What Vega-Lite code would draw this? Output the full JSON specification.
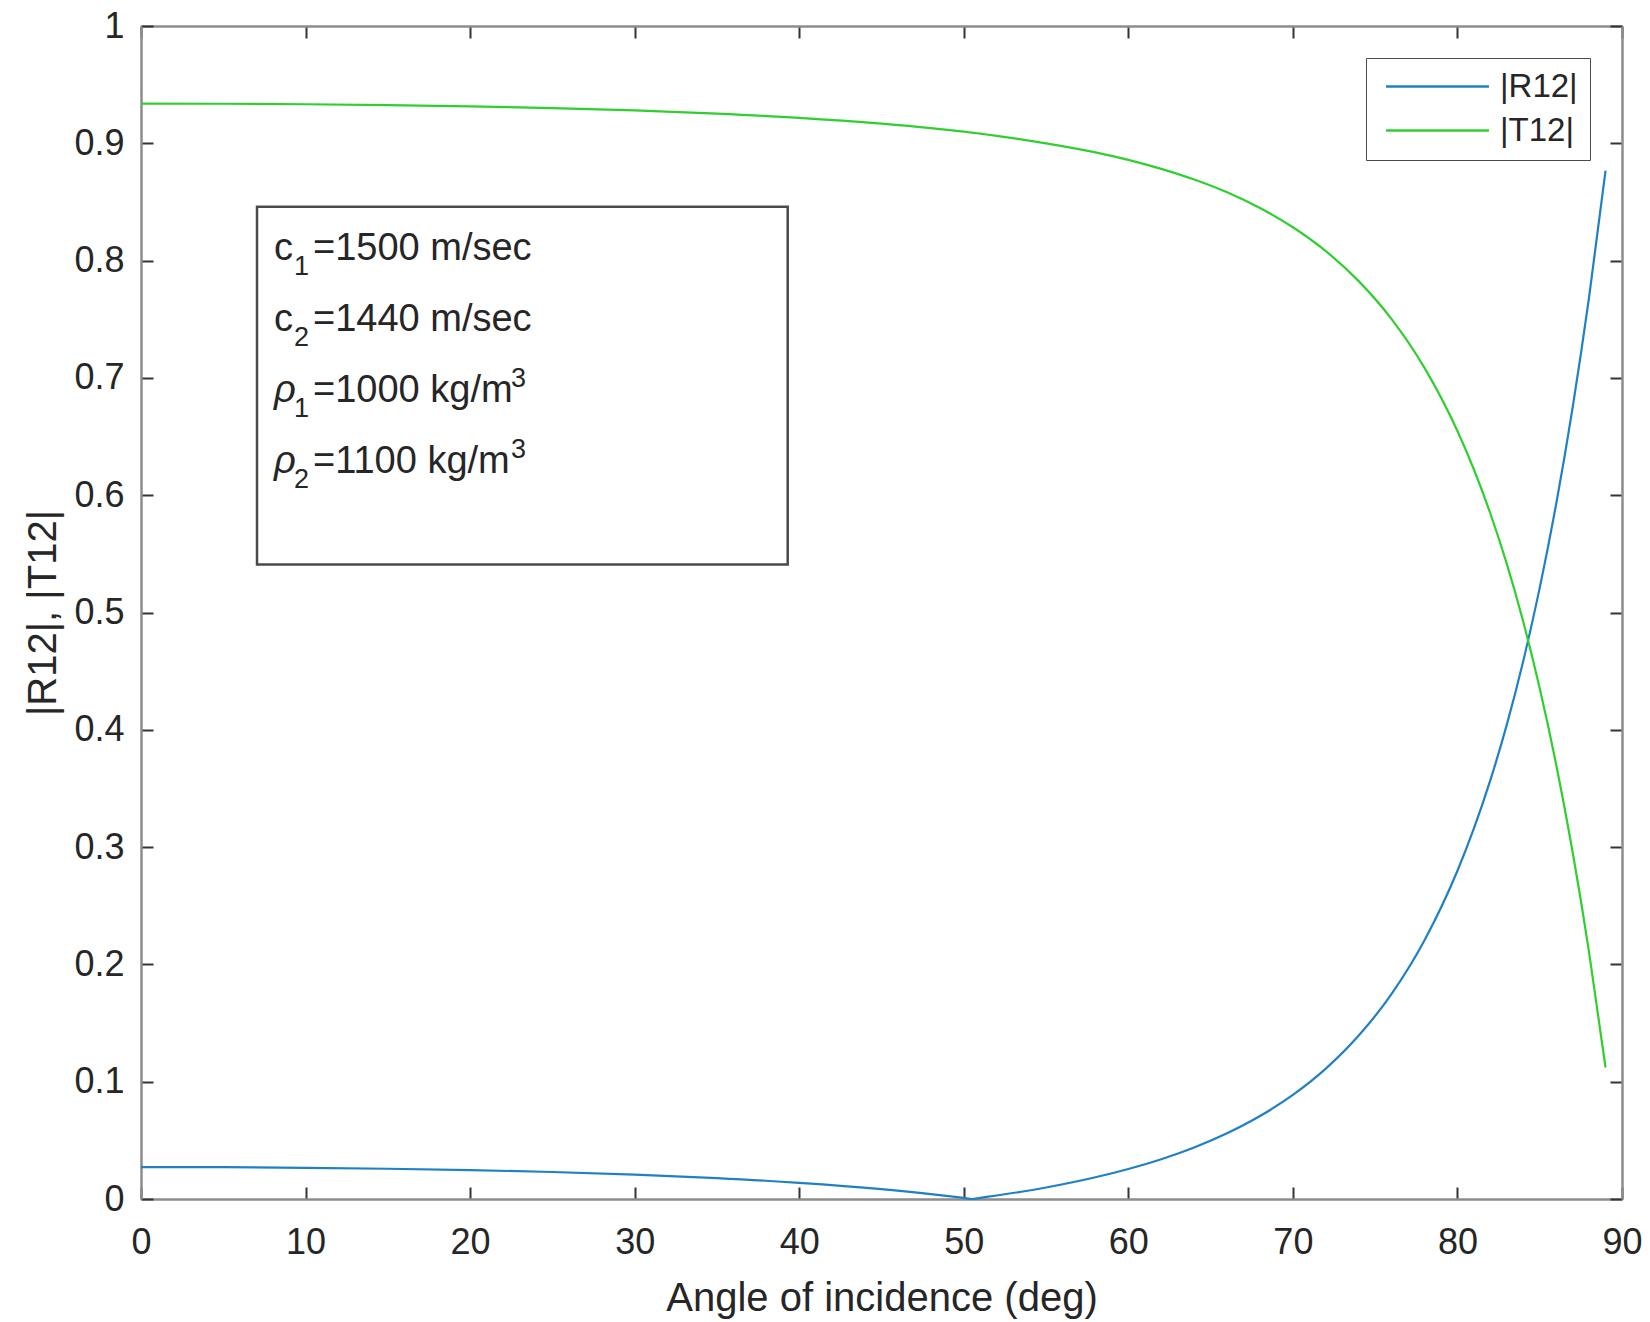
{
  "$schema": "https://vega.github.io/schema/vega-lite/v6.json",
  "width": 1481,
  "height": 1173,
  "autosize": {"type": "none"},
  "padding": {"left": 141, "top": 26, "right": 28, "bottom": 123},
  "background": "white",
  "config": {
    "view": {"stroke": null},
    "font": "Liberation Sans",
    "axis": {
      "domainColor": "#8c8c8c",
      "domainWidth": 2.5,
      "tickColor": "#333333",
      "tickWidth": 2,
      "tickSize": -12,
      "grid": false,
      "labelFont": "Liberation Sans",
      "labelFontSize": 36,
      "labelColor": "#262626",
      "titleFont": "Liberation Sans",
      "titleFontSize": 40,
      "titleFontWeight": "normal",
      "titleColor": "#262626"
    },
    "text": {"font": "Liberation Sans", "color": "#262626", "align": "left", "baseline": "alphabetic", "lineHeight": 71}
  },
  "layer": [
    {
      "data": {
        "values": [
          {"angle": 0, "series": "|R12|", "value": 0.0272},
          {"angle": 5, "series": "|R12|", "value": 0.0271},
          {"angle": 10, "series": "|R12|", "value": 0.0266},
          {"angle": 15, "series": "|R12|", "value": 0.0258},
          {"angle": 20, "series": "|R12|", "value": 0.0247},
          {"angle": 25, "series": "|R12|", "value": 0.0230},
          {"angle": 30, "series": "|R12|", "value": 0.0208},
          {"angle": 35, "series": "|R12|", "value": 0.0178},
          {"angle": 40, "series": "|R12|", "value": 0.0138},
          {"angle": 45, "series": "|R12|", "value": 0.0084},
          {"angle": 48, "series": "|R12|", "value": 0.0042},
          {"angle": 50, "series": "|R12|", "value": 0.0009},
          {"angle": 50.5, "series": "|R12|", "value": 0.0000},
          {"angle": 51, "series": "|R12|", "value": 0.0010},
          {"angle": 52, "series": "|R12|", "value": 0.0030},
          {"angle": 55, "series": "|R12|", "value": 0.0098},
          {"angle": 58, "series": "|R12|", "value": 0.0185},
          {"angle": 60, "series": "|R12|", "value": 0.0256},
          {"angle": 62, "series": "|R12|", "value": 0.0339},
          {"angle": 64, "series": "|R12|", "value": 0.0439},
          {"angle": 66, "series": "|R12|", "value": 0.0560},
          {"angle": 68, "series": "|R12|", "value": 0.0707},
          {"angle": 70, "series": "|R12|", "value": 0.0887},
          {"angle": 72, "series": "|R12|", "value": 0.1111},
          {"angle": 74, "series": "|R12|", "value": 0.1393},
          {"angle": 76, "series": "|R12|", "value": 0.1749},
          {"angle": 78, "series": "|R12|", "value": 0.2206},
          {"angle": 80, "series": "|R12|", "value": 0.2798},
          {"angle": 81, "series": "|R12|", "value": 0.3159},
          {"angle": 82, "series": "|R12|", "value": 0.3571},
          {"angle": 83, "series": "|R12|", "value": 0.4044},
          {"angle": 84, "series": "|R12|", "value": 0.4587},
          {"angle": 85, "series": "|R12|", "value": 0.5210},
          {"angle": 86, "series": "|R12|", "value": 0.5925},
          {"angle": 87, "series": "|R12|", "value": 0.6747},
          {"angle": 88, "series": "|R12|", "value": 0.7688},
          {"angle": 89, "series": "|R12|", "value": 0.8767},
          {"angle": 0, "series": "|T12|", "value": 0.9339},
          {"angle": 5, "series": "|T12|", "value": 0.9337},
          {"angle": 10, "series": "|T12|", "value": 0.9333},
          {"angle": 15, "series": "|T12|", "value": 0.9326},
          {"angle": 20, "series": "|T12|", "value": 0.9315},
          {"angle": 25, "series": "|T12|", "value": 0.9300},
          {"angle": 30, "series": "|T12|", "value": 0.9280},
          {"angle": 35, "series": "|T12|", "value": 0.9253},
          {"angle": 40, "series": "|T12|", "value": 0.9217},
          {"angle": 45, "series": "|T12|", "value": 0.9167},
          {"angle": 48, "series": "|T12|", "value": 0.9129},
          {"angle": 50, "series": "|T12|", "value": 0.9099},
          {"angle": 50.5, "series": "|T12|", "value": 0.9091},
          {"angle": 51, "series": "|T12|", "value": 0.9082},
          {"angle": 52, "series": "|T12|", "value": 0.9064},
          {"angle": 55, "series": "|T12|", "value": 0.9000},
          {"angle": 58, "series": "|T12|", "value": 0.8923},
          {"angle": 60, "series": "|T12|", "value": 0.8859},
          {"angle": 62, "series": "|T12|", "value": 0.8782},
          {"angle": 64, "series": "|T12|", "value": 0.8691},
          {"angle": 66, "series": "|T12|", "value": 0.8582},
          {"angle": 68, "series": "|T12|", "value": 0.8448},
          {"angle": 70, "series": "|T12|", "value": 0.8284},
          {"angle": 72, "series": "|T12|", "value": 0.8081},
          {"angle": 74, "series": "|T12|", "value": 0.7825},
          {"angle": 76, "series": "|T12|", "value": 0.7501},
          {"angle": 78, "series": "|T12|", "value": 0.7085},
          {"angle": 80, "series": "|T12|", "value": 0.6547},
          {"angle": 81, "series": "|T12|", "value": 0.6219},
          {"angle": 82, "series": "|T12|", "value": 0.5844},
          {"angle": 83, "series": "|T12|", "value": 0.5415},
          {"angle": 84, "series": "|T12|", "value": 0.4921},
          {"angle": 85, "series": "|T12|", "value": 0.4355},
          {"angle": 86, "series": "|T12|", "value": 0.3704},
          {"angle": 87, "series": "|T12|", "value": 0.2958},
          {"angle": 88, "series": "|T12|", "value": 0.2102},
          {"angle": 89, "series": "|T12|", "value": 0.1121}
        ]
      },
      "mark": {"type": "line", "strokeWidth": 2.2, "interpolate": "monotone"},
      "encoding": {
        "x": {
          "field": "angle",
          "type": "quantitative",
          "scale": {"domain": [0, 90], "nice": false, "zero": false},
          "axis": {
            "orient": "bottom",
            "values": [0, 10, 20, 30, 40, 50, 60, 70, 80, 90],
            "labelPadding": 38,
            "labelFlush": false,
            "title": "Angle of incidence (deg)",
            "titlePadding": 18
          }
        },
        "y": {
          "field": "value",
          "type": "quantitative",
          "scale": {"domain": [0, 1], "nice": false},
          "axis": {
            "orient": "left",
            "values": [0, 0.1, 0.2, 0.3, 0.4, 0.5, 0.6, 0.7, 0.8, 0.9, 1],
            "format": "~g",
            "labelPadding": 29,
            "labelFlush": false,
            "title": "|R12|, |T12|",
            "titlePadding": 10
          }
        },
        "color": {
          "field": "series",
          "type": "nominal",
          "scale": {"domain": ["|R12|", "|T12|"], "range": ["#1f80c4", "#30cf30"]},
          "legend": {
            "orient": "top-right",
            "offset": 32,
            "title": null,
            "symbolType": "M-5,0H5",
            "symbolSize": 424,
            "symbolStrokeWidth": 2.5,
            "labelFont": "Liberation Sans",
            "labelFontSize": 33,
            "labelColor": "#262626",
            "labelOffset": 46,
            "symbolOffset": 43,
            "rowPadding": 10,
            "padding": 12,
            "strokeColor": "#4a4a4a",
            "fillColor": "white"
          }
        }
      }
    },
    {
      "data": {"values": [{}]},
      "mark": {"type": "rect", "fill": "white", "stroke": "#4a4a4a", "strokeWidth": 2.5},
      "encoding": {
        "x": {
          "datum": 7.05,
          "type": "quantitative",
          "axis": {
            "orient": "top",
            "values": [0, 10, 20, 30, 40, 50, 60, 70, 80, 90],
            "labels": false,
            "title": null
          }
        },
        "x2": {"datum": 39.3},
        "y": {
          "datum": 0.846,
          "type": "quantitative",
          "axis": {
            "orient": "right",
            "values": [0, 0.1, 0.2, 0.3, 0.4, 0.5, 0.6, 0.7, 0.8, 0.9, 1],
            "labels": false,
            "title": null
          }
        },
        "y2": {"datum": 0.541}
      }
    },
    {
      "data": {"values": [{}]},
      "encoding": {
        "x": {"datum": 8.08, "type": "quantitative", "axis": null},
        "y": {"datum": 0.8005, "type": "quantitative", "axis": null}
      },
      "layer": [
        {"mark": {"type": "text", "text": ["c", "c"], "fontSize": 38}},
        {"mark": {"type": "text", "text": ["1", "2", "1", "2"], "fontSize": 27, "dx": 20, "dy": 15}},
        {"mark": {"type": "text", "text": ["=1500 m/sec", "=1440 m/sec", "=1000 kg/m", "=1100 kg/m"], "fontSize": 38, "dx": 39}}
      ]
    },
    {
      "data": {"values": [{}]},
      "encoding": {
        "x": {"datum": 8.08, "type": "quantitative", "axis": null},
        "y": {"datum": 0.6795, "type": "quantitative", "axis": null}
      },
      "layer": [
        {"mark": {"type": "text", "text": ["ρ", "ρ"], "fontSize": 38, "fontStyle": "italic"}},
        {"mark": {"type": "text", "text": ["3", "3"], "fontSize": 27, "dx": 237, "dy": -15}}
      ]
    }
  ],
  "resolve": {"axis": {"x": "independent", "y": "independent"}}
}
